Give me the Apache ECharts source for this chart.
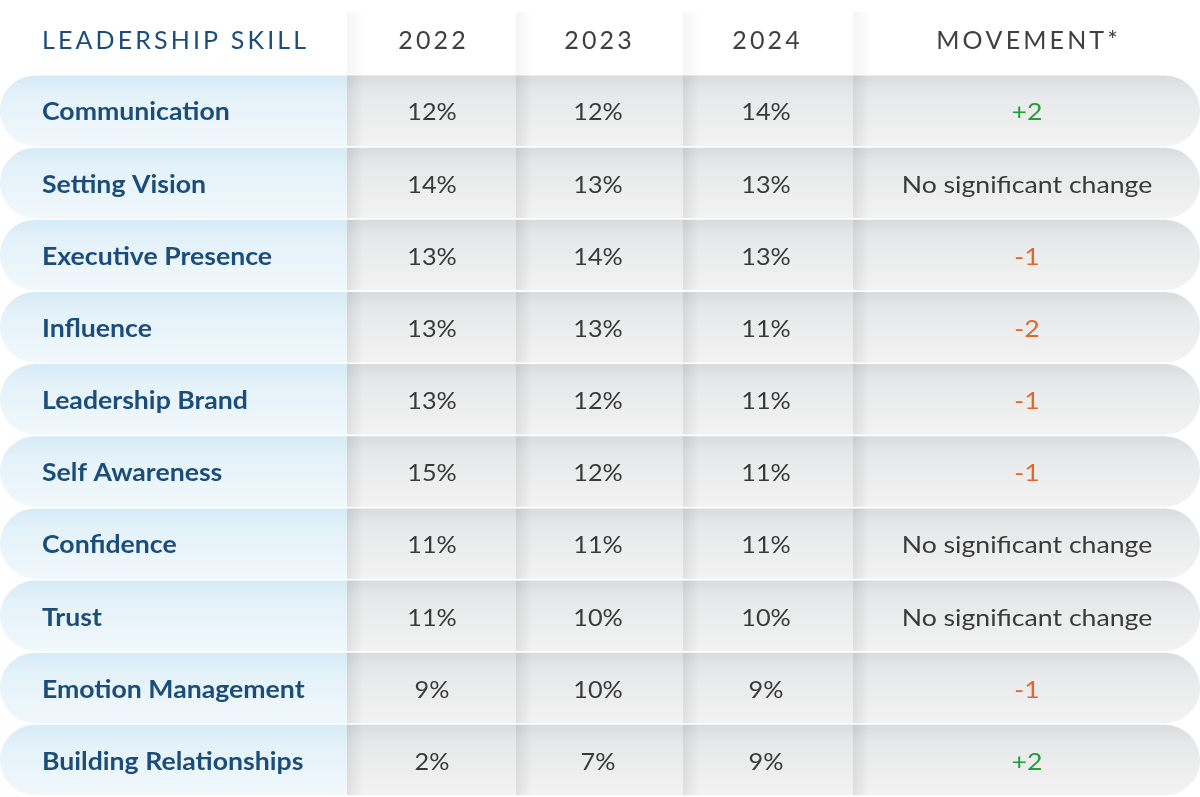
<!DOCTYPE html>
<html><head><meta charset="utf-8">
<script src="https://cdn.jsdelivr.net/npm/echarts@6/dist/echarts.min.js"></script>
<style>html,body{margin:0;padding:0;background:#fff}#c{width:1200px;height:797px}</style>
</head><body><div id="c"></div>
<script>
// ---- data ----
const headers = ['LEADERSHIP SKILL', '2022', '2023', '2024', 'MOVEMENT*'];
const skills = ['Communication', 'Setting Vision', 'Executive Presence', 'Influence', 'Leadership Brand',
  'Self Awareness', 'Confidence', 'Trust', 'Emotion Management', 'Building Relationships'];
const v2022 = [12, 14, 13, 13, 13, 15, 11, 11, 9, 2];
const v2023 = [12, 13, 14, 13, 12, 12, 11, 10, 10, 7];
const v2024 = [14, 13, 13, 11, 11, 11, 11, 10, 9, 9];
const movement = ['+2', 'No significant change', '-1', '-2', '-1', '-1',
  'No significant change', 'No significant change', '-1', '+2'];

// ---- layout (pixels of the 1200-wide x axis) ----
const EDGES = [0, 347, 516, 683, 853, 1200];
const TEXT_X = [42, 432, 598, 766, 1027];
const FONT = 'Lato, "Open Sans", sans-serif';

function spaced(s) { return s.split('').join('\u2009'); }
function moveColor(m) { return m[0] === '+' ? '#1f9e3a' : (m[0] === '-' ? '#e0662a' : '#3a3a3a'); }

const LG = echarts.graphic.LinearGradient;
const blueFill = new LG(0, 0, 0, 1, [{offset: 0, color: '#d6ebf6'}, {offset: 0.3, color: '#e4f2f9'}, {offset: 1, color: '#f1f8fc'}]);
const grayFill = new LG(0, 0, 0, 1, [{offset: 0, color: '#dadbdd'}, {offset: 0.25, color: '#e7e8e9'}, {offset: 1, color: '#f3f3f3'}]);
const shadeFill = new LG(0, 0, 1, 0, [{offset: 0, color: 'rgba(0,0,0,0.08)'}, {offset: 1, color: 'rgba(0,0,0,0)'}]);
const headShade = new LG(0, 0, 1, 0, [{offset: 0, color: 'rgba(0,0,0,0.04)'}, {offset: 1, color: 'rgba(0,0,0,0)'}]);

const rows = skills.map((s, i) => [0, i]);

function txt(text, x, y, fill, font, align, sx) {
  return {type: 'text', x: x, y: y, scaleX: sx, scaleY: 1,
    style: {text: text, x: 0, y: 0, fill: fill, font: font,
      align: align, textAlign: align, verticalAlign: 'middle', textVerticalAlign: 'middle'}};
}

function renderItem(params, api) {
  const i = api.value(1);
  const c = api.coord([0, i]);
  const band = api.size([0, 1])[1];
  const top = c[1] - band / 2;
  const h = band - 1.7;
  const X = v => api.coord([v, i])[0];
  const cy = top + h / 2 + 2;
  const ch = [];
  ch.push({type: 'rect', shape: {x: X(EDGES[0]), y: top, width: X(EDGES[1]) - X(EDGES[0]), height: h, r: [35, 0, 0, 35]}, style: {fill: blueFill}});
  ch.push({type: 'rect', shape: {x: X(EDGES[1]), y: top, width: X(EDGES[5]) - X(EDGES[1]), height: h, r: [0, 35, 35, 0]}, style: {fill: grayFill}});
  for (let k = 1; k <= 4; k++) {
    ch.push({type: 'rect', shape: {x: X(EDGES[k]), y: top, width: 16, height: h}, style: {fill: shadeFill}});
  }
  ch.push(txt(skills[i], X(TEXT_X[0]), cy, '#1b4d7b', 'bold 24px ' + FONT, 'left', 1.11));
  ch.push(txt(v2022[i] + '%', X(TEXT_X[1]), cy, '#3a3a3a', '24px ' + FONT, 'center', 1.05));
  ch.push(txt(v2023[i] + '%', X(TEXT_X[2]), cy, '#3a3a3a', '24px ' + FONT, 'center', 1.05));
  ch.push(txt(v2024[i] + '%', X(TEXT_X[3]), cy, '#3a3a3a', '24px ' + FONT, 'center', 1.05));
  ch.push(txt(movement[i], X(TEXT_X[4]), cy, moveColor(movement[i]), '24px ' + FONT, 'center', 1.11));
  return {type: 'group', children: ch};
}

const graphics = [];
for (let k = 1; k <= 4; k++) {
  graphics.push({type: 'rect', left: EDGES[k], top: 12, shape: {width: 18, height: 64}, style: {fill: headShade}, silent: true});
}
headers.forEach((hd, k) => {
  graphics.push({type: 'text', x: TEXT_X[k], y: 41,
    style: {text: spaced(hd), fill: k === 0 ? '#1b4d7b' : '#3f3f3f', font: '25px ' + FONT,
      align: k === 0 ? 'left' : 'center', textAlign: k === 0 ? 'left' : 'center',
      verticalAlign: 'middle', textVerticalAlign: 'middle'}});
});

const chart = echarts.init(document.getElementById('c'), null, {renderer: 'canvas'});
chart.setOption({
  animation: false,
  backgroundColor: '#ffffff',
  grid: {left: 0, right: 0, top: 75.5, bottom: 0},
  xAxis: {type: 'value', min: 0, max: 1200, show: false},
  yAxis: {type: 'category', data: skills, inverse: true, show: false},
  series: [{type: 'custom', coordinateSystem: 'cartesian2d', data: rows, encode: {x: 0, y: 1}, renderItem: renderItem, clip: false}],
  graphic: graphics
});
</script></body></html>
